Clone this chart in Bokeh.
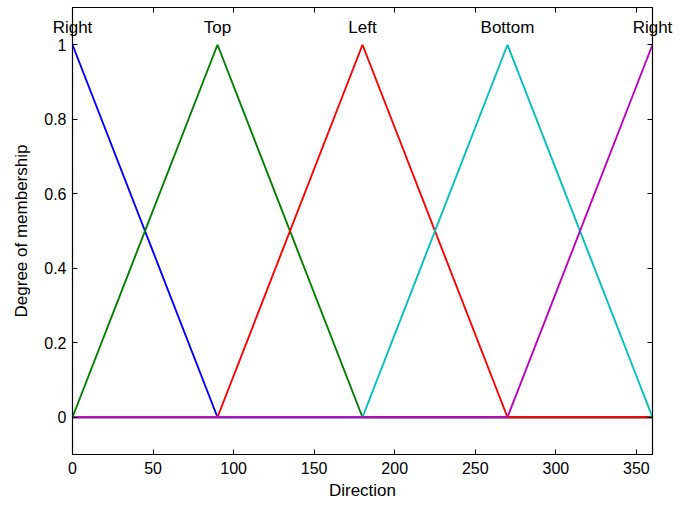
from bokeh.plotting import figure
from bokeh.models import LinearAxis, Range1d, FixedTicker
from bokeh.embed import file_html
from bokeh.resources import INLINE

# Membership function vertices (Direction, degree)
right1_x = [0, 90, 360]
right1_y = [1, 0, 0]
top_x = [0, 90, 180, 360]
top_y = [0, 1, 0, 0]
left_x = [0, 90, 180, 270, 360]
left_y = [0, 0, 1, 0, 0]
bottom_x = [0, 180, 270, 360]
bottom_y = [0, 0, 1, 0]
right2_x = [0, 270, 360]
right2_y = [0, 0, 1]

label_names = ["Right", "Top", "Left", "Bottom", "Right"]
label_x = [0, 90, 180, 270, 360]

x_ticks = [0, 50, 100, 150, 200, 250, 300, 350]
y_ticks = [0, 0.2, 0.4, 0.6, 0.8, 1]

FONT = "Liberation Sans"

p = figure(width=697, height=505, output_backend="svg", toolbar_location=None,
           x_range=Range1d(0, 360), y_range=Range1d(-0.1, 1.1),
           min_border_left=72, min_border_right=45, min_border_top=7, min_border_bottom=51)
p.grid.visible = False
p.background_fill_color = "white"
p.border_fill_color = "white"
p.outline_line_color = "black"
p.outline_line_width = 1.2

series = [
    (right1_x, right1_y, "#0000FF"),
    (top_x, top_y, "#008000"),
    (left_x, left_y, "#FF0000"),
    (bottom_x, bottom_y, "#00BFBF"),
    (right2_x, right2_y, "#BF00BF"),
]
for xs, ys, c in series:
    p.line(xs, ys, line_color=c, line_width=1.9)

for ax in (p.xaxis[0], p.yaxis[0]):
    ax.major_tick_in = 5
    ax.major_tick_out = 0
    ax.minor_tick_line_color = None
    ax.axis_line_color = "black"
    ax.major_tick_line_color = "black"
    ax.major_label_text_font = FONT
    ax.major_label_text_font_size = "16px"
    ax.major_label_text_color = "black"
    ax.axis_label_text_font = FONT
    ax.axis_label_text_font_size = "17px"
    ax.axis_label_text_font_style = "normal"
    ax.axis_label_text_color = "black"

p.xaxis[0].ticker = FixedTicker(ticks=x_ticks)
p.yaxis[0].ticker = FixedTicker(ticks=y_ticks)
p.yaxis[0].major_label_overrides = {0: "0", 1: "1"}
p.xaxis[0].axis_label = "Direction"
p.yaxis[0].axis_label = "Degree of membership"
p.xaxis[0].major_label_standoff = 7
p.yaxis[0].major_label_standoff = 6
p.xaxis[0].axis_label_standoff = 4
p.yaxis[0].axis_label_standoff = 10

# membership-function names, drawn as labels of an extra top axis (not clipped)
name_ax = LinearAxis(ticker=FixedTicker(ticks=label_x),
                     major_label_overrides={x: n for x, n in zip(label_x, label_names)},
                     major_tick_in=0, major_tick_out=0, minor_tick_line_color=None,
                     major_tick_line_color=None, axis_line_color=None,
                     major_label_standoff=-29,
                     major_label_text_font=FONT, major_label_text_font_size="17px",
                     major_label_text_color="black")
top_ax = LinearAxis(ticker=FixedTicker(ticks=x_ticks),
                    major_label_overrides={t: "" for t in x_ticks},
                    major_tick_in=5, major_tick_out=0, minor_tick_line_color=None,
                    axis_line_color="black", major_label_standoff=0)
right_ax = LinearAxis(ticker=FixedTicker(ticks=y_ticks),
                      major_label_overrides={t: "" for t in y_ticks},
                      major_tick_in=5, major_tick_out=0, minor_tick_line_color=None,
                      axis_line_color="black", major_label_standoff=0)
p.add_layout(name_ax, "above")
p.add_layout(top_ax, "above")
p.add_layout(right_ax, "right")

open("out.html", "w").write(file_html(p, INLINE))
